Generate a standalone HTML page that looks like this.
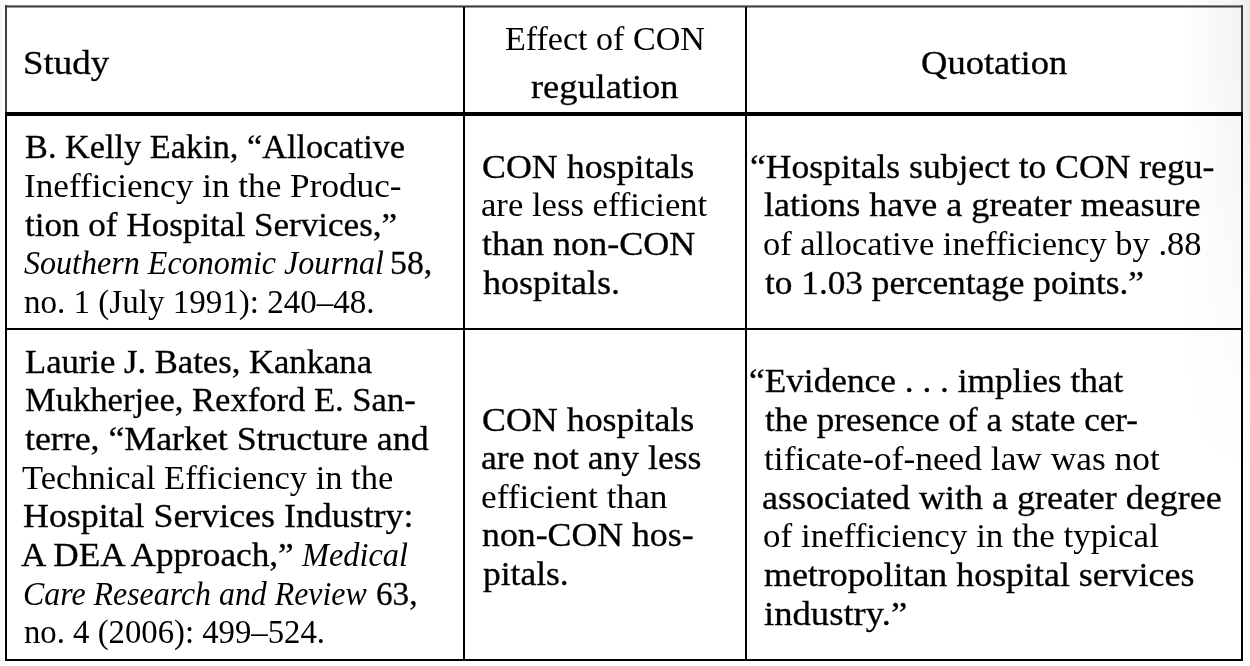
<!DOCTYPE html><html><head><meta charset="utf-8"><style>
html,body{margin:0;padding:0;}
body{width:1250px;height:666px;position:relative;overflow:hidden;background:#fff;
font-family:"Liberation Serif",serif;color:#000;}
.vig{position:absolute;left:0;top:0;width:1250px;height:666px;
background:linear-gradient(to right, rgba(0,0,0,0) 1180px, rgba(0,0,0,0.045) 1240px, rgba(0,0,0,0.07) 1250px);
-webkit-mask-image:linear-gradient(to bottom, #000 0px, #000 60px, rgba(0,0,0,0) 480px);}
.ln{position:absolute;white-space:pre;-webkit-text-stroke:0.3px #000;font-size:33.6px;line-height:33.6px;transform-origin:0 0;}
.ln i{font-style:italic;-webkit-text-stroke:0;}
.lt{-webkit-text-stroke:0 !important;}
.b{position:absolute;background:#000;}
</style></head><body>
<div class="vig"></div>
<div class="b" style="left:0;top:0;width:3px;height:666px;background:#f9f9f9"></div>
<div class="b" style="left:5px;top:5px;width:1238px;height:1px;background:#8a8a8a"></div>
<div class="b" style="left:5px;top:6px;width:1238px;height:1px;background:#404040"></div>
<div class="b" style="left:5px;top:7px;width:1238px;height:1px;background:#9a9a9a"></div>
<div class="b" style="left:5px;top:5px;width:2px;height:107px;background:#404040"></div>
<div class="b" style="left:5px;top:116px;width:2px;height:545px;background:#000"></div>
<div class="b" style="left:1241px;top:5px;width:2px;height:107px;background:#404040"></div>
<div class="b" style="left:1241px;top:116px;width:2px;height:545px;background:#000"></div>
<div class="b" style="left:5px;top:659px;width:1238px;height:2px;background:#000"></div>
<div class="b" style="left:5px;top:112px;width:1238px;height:4px;background:#000"></div>
<div class="b" style="left:5px;top:328px;width:1238px;height:2px;background:#000"></div>
<div class="b" style="left:463px;top:7px;width:2px;height:654px;background:#000"></div>
<div class="b" style="left:745px;top:7px;width:2px;height:654px;background:#000"></div>
<div class="ln" style="left:23.31px;top:46.41px;transform:scaleX(1.0988)">Study</div>
<div class="ln lt" style="left:504.99px;top:21.51px;transform:scaleX(1.0143)">Effect of CON</div>
<div class="ln" style="left:531.44px;top:69.91px;transform:scaleX(1.0830)">regulation</div>
<div class="ln" style="left:920.91px;top:45.91px;transform:scaleX(1.0887)">Quotation</div>
<div class="ln" style="left:24.97px;top:130.31px;transform:scaleX(1.0216)">B. Kelly Eakin, &ldquo;Allocative</div>
<div class="ln lt" style="left:23.95px;top:169.01px;transform:scaleX(1.0480)">Inefficiency in the Produc-</div>
<div class="ln" style="left:24.99px;top:207.91px;transform:scaleX(1.0446)">tion of Hospital Services,&rdquo;</div>
<div class="ln" style="left:24.04px;top:246.41px;transform:scaleX(0.9552)"><i>Southern Economic Journal</i></div>
<div class="ln" style="left:390.48px;top:246.41px;transform:scaleX(1.0056)">58,</div>
<div class="ln lt" style="left:24.02px;top:285.11px;transform:scaleX(0.9841)">no. 1 (July 1991): 240&ndash;48.</div>
<div class="ln" style="left:482.38px;top:149.61px;transform:scaleX(1.0684)">CON hospitals</div>
<div class="ln lt" style="left:481.48px;top:188.31px;transform:scaleX(1.0312)">are less efficient</div>
<div class="ln" style="left:481.98px;top:227.01px;transform:scaleX(1.0738)">than non-CON</div>
<div class="ln" style="left:482.98px;top:265.91px;transform:scaleX(1.0730)">hospitals.</div>
<div class="ln" style="left:749.89px;top:149.61px;transform:scaleX(1.0593)">&ldquo;Hospitals subject to CON regu-</div>
<div class="ln" style="left:763.95px;top:188.31px;transform:scaleX(1.0741)">lations have a greater measure</div>
<div class="ln lt" style="left:762.95px;top:227.01px;transform:scaleX(1.0260)">of allocative inefficiency by .88</div>
<div class="ln" style="left:764.95px;top:265.91px;transform:scaleX(1.0503)">to 1.03 percentage points.&rdquo;</div>
<div class="ln" style="left:24.99px;top:344.81px;transform:scaleX(1.0310)">Laurie J. Bates, Kankana</div>
<div class="ln" style="left:24.99px;top:383.41px;transform:scaleX(1.0296)">Mukherjee, Rexford E. San-</div>
<div class="ln" style="left:25.45px;top:422.11px;transform:scaleX(1.0661)">terre, &ldquo;Market Structure and</div>
<div class="ln lt" style="left:22.47px;top:460.71px;transform:scaleX(1.0267)">Technical Efficiency in the</div>
<div class="ln" style="left:23.43px;top:499.41px;transform:scaleX(1.0680)">Hospital Services Industry:</div>
<div class="ln" style="left:21.47px;top:538.11px;transform:scaleX(1.0481)">A DEA Approach,&rdquo;</div>
<div class="ln" style="left:301.99px;top:538.11px;transform:scaleX(0.9633)"><i>Medical</i></div>
<div class="ln" style="left:22.61px;top:576.81px;transform:scaleX(0.9494)"><i>Care Research and Review</i></div>
<div class="ln" style="left:376.00px;top:576.81px;transform:scaleX(0.9900)">63,</div>
<div class="ln lt" style="left:23.53px;top:615.41px;transform:scaleX(0.9751)">no. 4 (2006): 499&ndash;524.</div>
<div class="ln" style="left:481.87px;top:402.51px;transform:scaleX(1.0684)">CON hospitals</div>
<div class="ln" style="left:480.94px;top:441.11px;transform:scaleX(1.0602)">are not any less</div>
<div class="ln lt" style="left:480.95px;top:479.71px;transform:scaleX(1.0511)">efficient than</div>
<div class="ln" style="left:481.97px;top:518.31px;transform:scaleX(1.0650)">non-CON hos-</div>
<div class="ln" style="left:482.97px;top:556.91px;transform:scaleX(1.0558)">pitals.</div>
<div class="ln" style="left:749.40px;top:364.11px;transform:scaleX(1.0509)">&ldquo;Evidence . . . implies that</div>
<div class="ln" style="left:765.46px;top:402.91px;transform:scaleX(1.0469)">the presence of a state cer-</div>
<div class="ln lt" style="left:763.96px;top:441.81px;transform:scaleX(1.0533)">tificate-of-need law was not</div>
<div class="ln" style="left:762.42px;top:480.61px;transform:scaleX(1.0721)">associated with a greater degree</div>
<div class="ln lt" style="left:762.96px;top:519.41px;transform:scaleX(1.0423)">of inefficiency in the typical</div>
<div class="ln" style="left:763.95px;top:558.31px;transform:scaleX(1.0683)">metropolitan hospital services</div>
<div class="ln" style="left:763.93px;top:597.11px;transform:scaleX(1.0915)">industry.&rdquo;</div>
</body></html>
